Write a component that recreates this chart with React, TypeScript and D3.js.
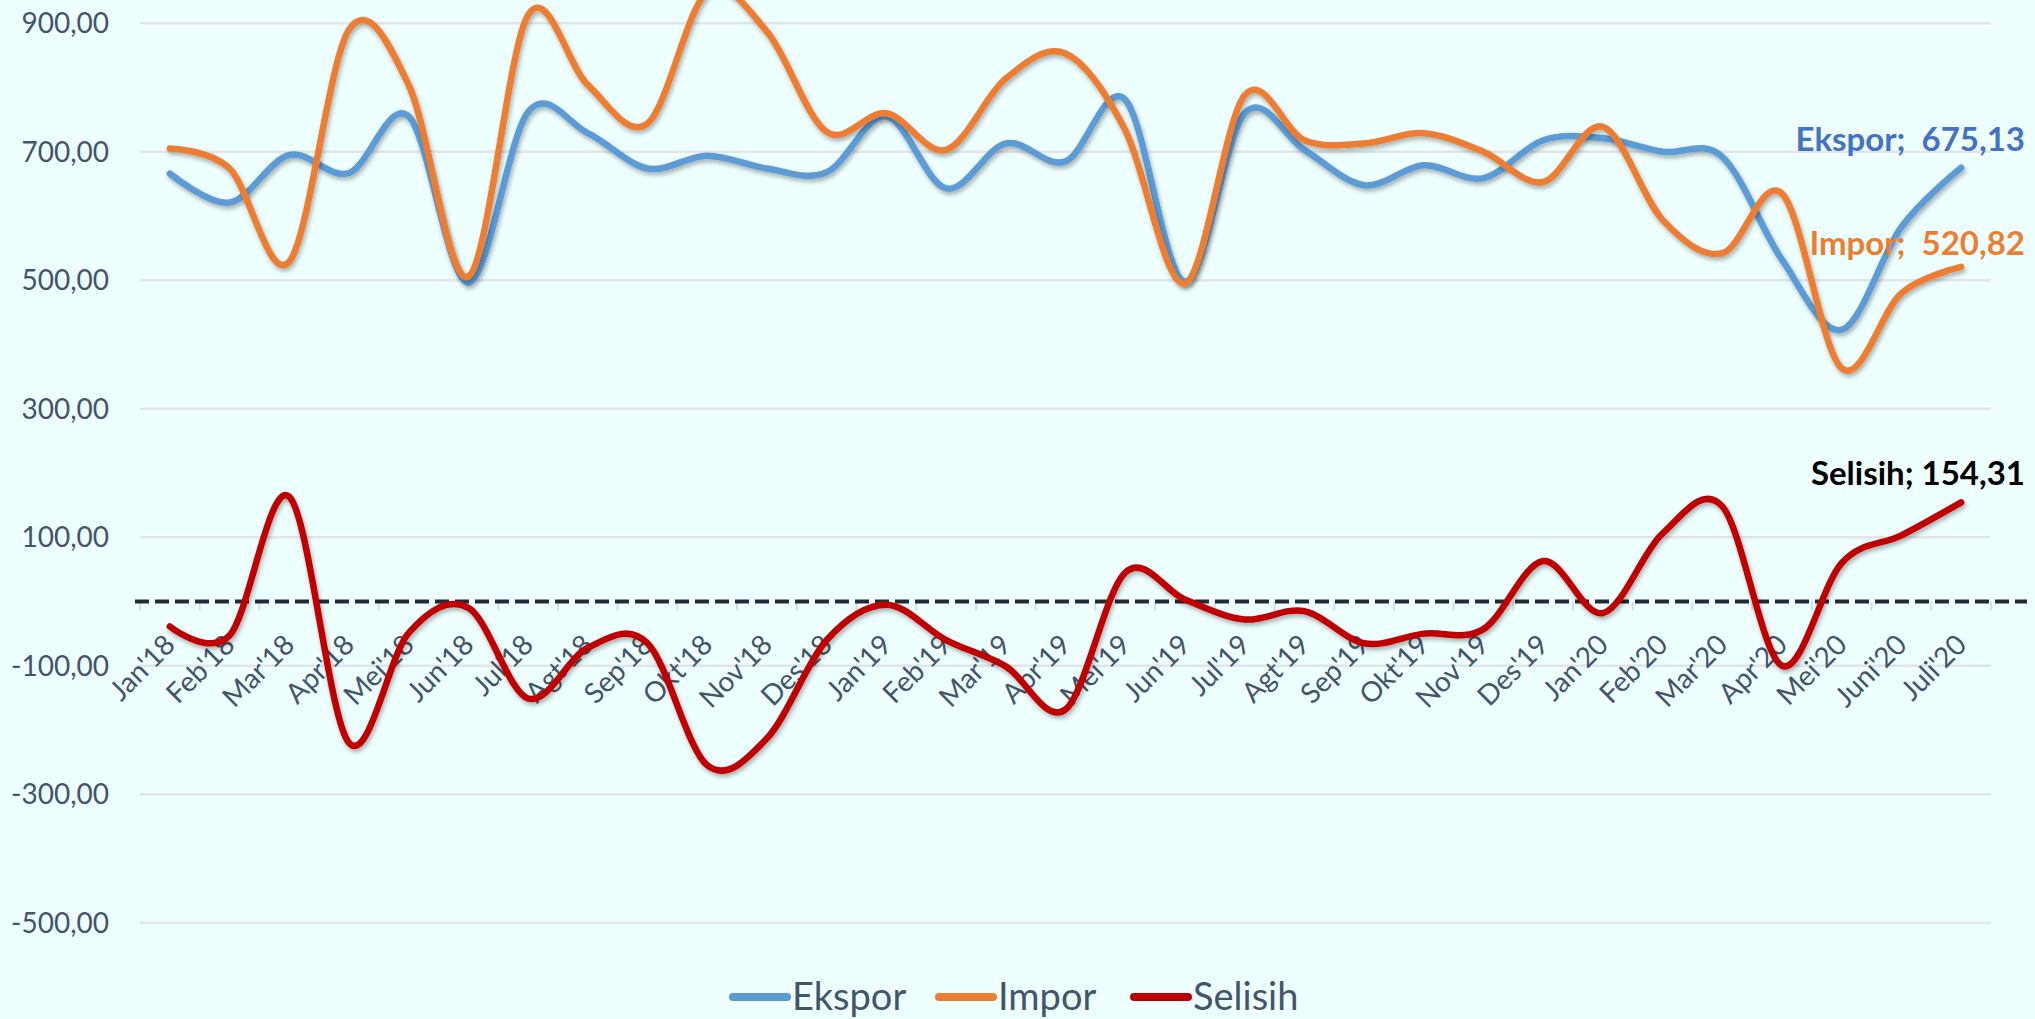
import React from "react";
import * as d3 from "d3";

const categories = ["Jan'18","Feb'18","Mar'18","Apr'18","Mei'18","Jun'18","Jul'18","Agt'18","Sep'18","Okt'18","Nov'18","Des'18","Jan'19","Feb'19","Mar'19","Apr'19","Mei'19","Jun'19","Jul'19","Agt'19","Sep'19","Okt'19","Nov'19","Des'19","Jan'20","Feb'20","Mar'20","Apr'20","Mei'20","Juni'20","Juli'20"];
const ekspor = [666, 621, 695, 667, 755, 496, 762, 729, 674, 694, 674, 668, 755, 643, 713, 685, 781, 498, 760, 703, 648, 679, 659, 718, 721, 700, 692, 532, 423, 583, 675.13];
const impor = [705, 674, 529, 890, 804, 506, 913, 804, 744, 949, 887, 731, 760, 703, 814, 853, 734, 495, 788, 718, 713, 729, 700, 653, 739, 594, 542, 635, 363, 480, 520.82];
const selisih = [-39, -53, 163, -220, -49, -10, -151, -72, -65, -255, -213, -60, -5, -60, -101, -168, 45, 3, -28, -15, -65, -50, -43, 63, -18, 106, 148, -100, 60, 103, 154.31];
const yTicks = [-500, -300, -100, 100, 300, 500, 700, 900];

const W = 2035, H = 1019;
const BG = "#EEFFFF";
const LABEL = "#44546A";
const FONT = "Lato, 'Noto Sans', sans-serif";

const loc = d3.formatLocale({ decimal: ",", thousands: ".", grouping: [3], currency: ["", ""], minus: "-" });
const fmt = loc.format(".2f");

export default function App() {
  const x = d3.scaleBand<string>().domain(categories).range([140, 1991]).padding(0);
  const cx = (i: number) => (x(categories[i]) as number) + x.bandwidth() / 2;
  const y = d3.scaleLinear().domain([-500, 900]).range([922.7, 23.3]);

  const line = d3.line<number>().x((_, i) => cx(i)).y((d) => y(d)).curve(d3.curveCardinal.tension(0));

  const series = [
    { name: "Ekspor", data: ekspor, color: "#5B9BD5" },
    { name: "Impor", data: impor, color: "#ED7D31" },
    { name: "Selisih", data: selisih, color: "#C00000" },
  ];

  const legend = [
    { name: "Ekspor", color: "#5B9BD5", lx: 733, tx: 792 },
    { name: "Impor", color: "#ED7D31", lx: 939, tx: 998 },
    { name: "Selisih", color: "#C00000", lx: 1134, tx: 1193 },
  ];

  const boundaries = d3.range(categories.length + 1).map((k) => 140 + k * x.bandwidth());

  return (
    <svg width={W} height={H} style={{ position: "absolute", left: 0, top: 0, background: BG }}>
      <defs>
        <filter id="sh" x="-5%" y="-5%" width="110%" height="120%">
          <feDropShadow dx="1.5" dy="3" stdDeviation="2" floodColor="#000" floodOpacity="0.3" />
        </filter>
      </defs>
      <rect x={0} y={0} width={W} height={H} fill={BG} />
      {yTicks.map((t) => (
        <g key={t}>
          <line x1={140} x2={1991} y1={y(t)} y2={y(t)} stroke="#E2E4E8" strokeWidth={2.5} />
          <text x={109} y={y(t)} dy="0.35em" textAnchor="end" fontFamily={FONT} fontSize={28} fill={LABEL}>
            {fmt(t)}
          </text>
        </g>
      ))}
      {boundaries.map((bx, k) => (
        <line key={k} x1={bx} x2={bx} y1={y(0)} y2={y(0) + 9} stroke="#D9DCE0" strokeWidth={2} />
      ))}
      <line x1={135} x2={2027} y1={y(0)} y2={y(0)} stroke="#222A35" strokeWidth={4} strokeDasharray="14 6" />
      {categories.map((c, i) => (
        <text key={c} transform={`translate(${cx(i) + 7},${y(0) + 45}) rotate(-45)`} textAnchor="end"
          fontFamily={FONT} fontSize={28} fill={LABEL}>{c}</text>
      ))}
      {series.map((s) => (
        <path key={s.name} d={line(s.data) as string} fill="none" stroke={s.color} strokeWidth={6.5}
          strokeLinecap="round" strokeLinejoin="round" filter="url(#sh)" />
      ))}
      <text x={2025} y={151} textAnchor="end" fontFamily={FONT} fontWeight="bold" fontSize={33} fill="#4472C4" style={{ whiteSpace: "pre" }}>
        {`Ekspor;  ${fmt(ekspor[ekspor.length - 1])}`}
      </text>
      <text x={2025} y={255} textAnchor="end" fontFamily={FONT} fontWeight="bold" fontSize={33} fill="#ED7D31" style={{ whiteSpace: "pre" }}>
        {`Impor;  ${fmt(impor[impor.length - 1])}`}
      </text>
      <text x={2025} y={485} textAnchor="end" fontFamily={FONT} fontWeight="bold" fontSize={33} fill="#000">
        {`Selisih; ${fmt(selisih[selisih.length - 1])}`}
      </text>
      {legend.map((l) => (
        <g key={l.name}>
          <line x1={l.lx} x2={l.lx + 54} y1={997} y2={997} stroke={l.color} strokeWidth={8} strokeLinecap="round" />
          <text x={l.tx} y={1010} fontFamily={FONT} fontSize={38} fill={LABEL}>{l.name}</text>
        </g>
      ))}
    </svg>
  );
}
